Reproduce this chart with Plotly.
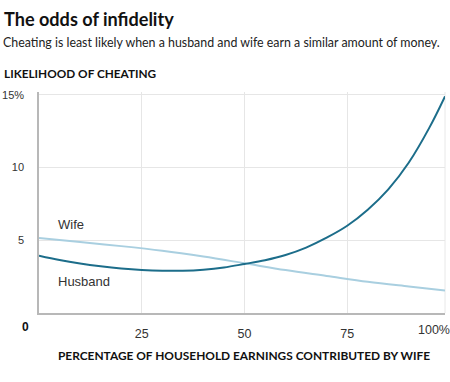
import plotly.graph_objects as go

# ---- data ----
husband_x = [0, 5, 10, 15, 20, 25, 30, 35, 40, 45, 50, 55, 60, 65, 70, 75, 80, 85, 90, 95, 98.8]
husband_y = [3.94, 3.64, 3.40, 3.21, 3.06, 2.96, 2.91, 2.91, 2.98, 3.13, 3.37, 3.63, 3.99, 4.50, 5.18,
             6.00, 7.10, 8.50, 10.35, 12.75, 14.9]
wife_x = [0, 10, 20, 30, 40, 50, 60, 70, 80, 90, 98.8]
wife_y = [5.15, 4.88, 4.60, 4.28, 3.88, 3.42, 2.95, 2.55, 2.15, 1.82, 1.54]

y_tickvals = [5, 10, 15]
y_ticktext = ["5", "10", "15%"]
x_tickvals = [25, 50, 75]
x_ticktext = ["25", "50", "75"]

title = "The odds of infidelity"
subtitle = "Cheating is least likely when a husband and wife earn a similar amount of money."
y_title = "LIKELIHOOD OF CHEATING"
x_title = "PERCENTAGE OF HOUSEHOLD EARNINGS CONTRIBUTED BY WIFE"

W, H = 450, 382
ML, MR, MT, MB = 39, 5, 92, 69
PW, PH = W - ML - MR, H - MT - MB

def px(xp):
    return (xp - ML) / PW

def py(yp):
    return (H - MB - yp) / PH

HUSBAND_C = "#1c6d8a"
WIFE_C = "#a9cfe0"
TXT = "#222222"
BASE = "Liberation Sans"
HEAD = "Lato"

fig = go.Figure()
fig.add_trace(go.Scatter(x=wife_x, y=wife_y, mode="lines", name="Wife",
                         line=dict(color=WIFE_C, width=2, shape="spline", smoothing=1),
                         hoverinfo="skip"))
fig.add_trace(go.Scatter(x=husband_x, y=husband_y, mode="lines", name="Husband",
                         line=dict(color=HUSBAND_C, width=2, shape="spline", smoothing=1),
                         hoverinfo="skip"))

annos = []
annos.append(dict(text="<b>" + title + "</b>", x=px(2), y=py(19), xref="paper", yref="paper",
                  xanchor="left", yanchor="middle", showarrow=False,
                  font=dict(family=HEAD, size=18.1, color="#111")))
annos.append(dict(text=subtitle, x=px(1), y=py(43), xref="paper", yref="paper",
                  xanchor="left", yanchor="middle", showarrow=False,
                  font=dict(family=HEAD, size=12.4, color=TXT)))
annos.append(dict(text="<b>" + y_title + "</b>", x=px(2), y=py(73), xref="paper", yref="paper",
                  xanchor="left", yanchor="middle", showarrow=False,
                  font=dict(family=HEAD, size=11.8, color="#111")))
annos.append(dict(text="<b>" + x_title + "</b>", x=px(244), y=py(355), xref="paper", yref="paper",
                  xanchor="center", yanchor="middle", showarrow=False,
                  font=dict(family=HEAD, size=11.9, color="#111")))
annos.append(dict(text="<b>0</b>", x=px(25), y=py(327), xref="paper", yref="paper",
                  xanchor="center", yanchor="middle", showarrow=False,
                  font=dict(family=BASE, size=12, color="#111")))
annos.append(dict(text="100%", x=px(452), y=py(330), xref="paper", yref="paper",
                  xanchor="right", yanchor="middle", showarrow=False,
                  font=dict(family=BASE, size=12.5, color="#333")))
annos.append(dict(text="Wife", x=px(56), y=py(224), xref="paper", yref="paper",
                  xanchor="left", yanchor="middle", showarrow=False,
                  font=dict(family=BASE, size=13, color="#333")))
annos.append(dict(text="Husband", x=px(56), y=py(281), xref="paper", yref="paper",
                  xanchor="left", yanchor="middle", showarrow=False,
                  font=dict(family=BASE, size=13, color="#333")))

fig.update_layout(
    width=W, height=H,
    margin=dict(l=ML, r=MR, t=MT, b=MB, pad=0, autoexpand=False),
    paper_bgcolor="white", plot_bgcolor="white",
    showlegend=False,
    annotations=annos,
    shapes=[dict(type="line", xref="paper", yref="paper", x0=1, x1=1, y0=0, y1=1,
                 line=dict(color="#e8e8e8", width=1), layer="below")],
    xaxis=dict(range=[0, 98.8], tickvals=x_tickvals, ticktext=x_ticktext,
               showgrid=True, gridcolor="#e6e6e6", gridwidth=1,
               showline=True, linecolor="#b8b8b8", linewidth=1.5,
               zeroline=False, ticks="", ticklabelstandoff=8, automargin=False,
               tickfont=dict(family=BASE, size=12.5, color="#333"), fixedrange=True),
    yaxis=dict(range=[0, 15.2], tickvals=y_tickvals, ticktext=y_ticktext,
               showgrid=True, gridcolor="#e6e6e6", gridwidth=1,
               showline=True, linecolor="#b8b8b8", linewidth=1.5,
               zeroline=False, ticks="", ticklabelstandoff=11, automargin=False,
               tickfont=dict(family=BASE, size=11, color="#333"), fixedrange=True),
)

fig.write_html("out.html", config={"displayModeBar": False},
               post_script="document.body.style.margin='0';document.body.style.padding='0';")
